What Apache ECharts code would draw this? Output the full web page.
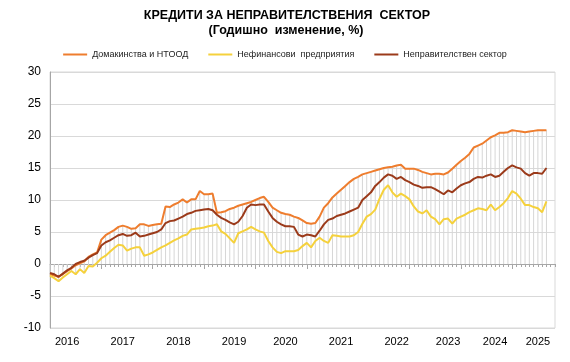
<!DOCTYPE html>
<html><head><meta charset="utf-8">
<script src="https://cdn.jsdelivr.net/npm/echarts/dist/echarts.min.js"></script>
<style>html,body{margin:0;padding:0;background:#fff}#c{width:570px;height:362px}</style>
</head><body><div id="c"></div>
<script>
const titleLine1 = 'КРЕДИТИ ЗА НЕПРАВИТЕЛСТВЕНИЯ  СЕКТОР';
const titleLine2 = '(Годишно  изменение, %)';
const seriesNames = ['Домакинства и НТООД', 'Нефинансови  предприятия', 'Неправителствен сектор'];

// monthly categories Jan 2016 .. Nov 2025
const months = [];
for (let y = 2016; y <= 2025; y++) {
  for (let m = 1; m <= 12; m++) {
    if (y === 2025 && m > 11) break;
    months.push(y + '-' + String(m).padStart(2, '0'));
  }
}

const households = [
 -1.6,-1.8,-2.0,-1.6,-1.1,-0.7,-0.2,0.1,0.4,1.1,1.5,1.8,
 3.8,4.5,4.9,5.3,5.8,6.0,5.8,5.5,5.6,6.2,6.2,5.95,
 6.1,6.2,6.3,9.0,8.9,9.3,9.6,10.1,9.6,10.1,10.1,11.4,
 10.9,10.9,11.0,8.0,8.1,8.25,8.6,8.8,9.1,9.3,9.5,9.7,
 10.0,10.3,10.5,9.7,8.8,8.4,8.0,7.8,7.7,7.4,7.2,6.8,
 6.4,6.3,6.4,7.4,8.8,9.5,10.4,11.0,11.6,12.2,12.8,13.3,
 13.6,14.0,14.2,14.4,14.6,14.8,15.0,15.1,15.2,15.4,15.5,14.9,
 14.9,14.9,14.7,14.4,14.2,14.0,14.1,14.1,14.0,14.3,14.9,15.5,
 16.1,16.6,17.2,18.2,18.5,18.8,19.3,19.8,20.1,20.5,20.5,20.6,
 20.9,20.8,20.7,20.6,20.7,20.8,20.9,20.9,20.9
];
const nonFinancial = [
 -1.8,-2.2,-2.7,-2.1,-1.6,-1.1,-1.6,-0.8,-1.4,-0.3,-0.4,0.2,
 0.9,1.3,1.9,2.5,3.0,2.9,2.1,2.4,2.6,2.6,1.3,1.5,
 1.8,2.2,2.6,2.9,3.3,3.7,4.0,4.4,4.6,5.4,5.5,5.6,
 5.7,5.9,6.0,6.2,5.1,4.7,4.0,3.3,4.8,5.1,5.4,5.8,
 5.4,5.1,4.9,3.6,2.6,1.9,1.7,2.0,2.0,2.0,2.2,2.8,
 3.3,2.6,3.6,4.1,3.6,3.3,4.5,4.4,4.3,4.3,4.3,4.5,
 5.0,6.3,7.4,7.8,8.5,10.2,11.6,12.3,11.2,10.5,11.0,10.6,
 10.1,9.0,8.2,7.9,8.4,7.4,7.0,6.2,7.0,7.1,6.3,7.1,
 7.4,7.7,8.1,8.4,8.7,8.6,8.4,9.3,8.4,8.9,9.5,10.3,
 11.4,11.0,10.2,9.2,9.2,8.9,8.7,8.1,9.8
];
const nonGovernment = [
 -1.4,-1.6,-2.0,-1.5,-1.0,-0.6,0.0,0.3,0.5,1.0,1.4,1.7,
 2.9,3.4,3.7,4.1,4.5,4.7,4.4,4.5,4.9,4.3,4.4,4.6,
 4.8,5.0,5.4,6.4,6.7,6.8,7.1,7.4,7.8,8.0,8.3,8.4,
 8.5,8.6,8.4,7.7,7.2,6.9,6.5,6.2,6.6,7.5,8.8,9.3,
 9.2,9.3,9.3,8.2,7.2,6.6,6.2,5.9,5.9,5.8,4.6,4.3,
 4.6,4.5,4.3,5.2,6.2,6.9,7.1,7.5,7.7,7.9,8.2,8.5,
 8.8,10.0,10.6,11.2,12.2,12.8,13.5,14.0,13.8,13.3,13.6,13.1,
 12.8,12.4,12.2,11.9,12.0,12.0,11.7,11.3,10.9,11.5,11.2,11.8,
 12.3,12.6,12.8,13.3,13.6,13.5,13.8,14.0,13.6,13.8,14.4,15.0,
 15.4,15.1,14.9,14.2,13.8,14.2,14.2,14.1,15.0
];

const yearLabels = ['2016','2017','2018','2019','2020','2021','2022','2023','2024','2025'];
const yearLabelMonths = ['2016-05','2017-06','2018-07','2019-08','2020-08','2021-09','2022-10','2023-10','2024-09','2025-07'];
const yMin = -10, yMax = 30, yStep = 5;

const colors = ['#EE7D2E', '#F5D13C', '#9B3A1A'];
const FONT = 'Liberation Sans, Arial, sans-serif';

// drop lines (Excel-style): from zero to the extreme of the series in each month
const dropUp = households.map((v, i) => Math.max(0, v, nonFinancial[i], nonGovernment[i]));
const dropDown = households.map((v, i) => Math.min(0, v, nonFinancial[i], nonGovernment[i]));

const gridTop = 72, gridHeight = 256;
const chart = echarts.init(document.getElementById('c'), null, {renderer: 'canvas'});
chart.setOption({
  animation: false,
  backgroundColor: '#fff',
  textStyle: {fontFamily: FONT},
  title: [
    {text: titleLine1, left: 282, textAlign: 'center', top: 4, textStyle: {fontSize: 12.5, fontWeight: 'bold', color: '#000', fontFamily: FONT}},
    {text: titleLine2, left: 281, textAlign: 'center', top: 19, textStyle: {fontSize: 12.5, fontWeight: 'bold', color: '#000', fontFamily: FONT}}
  ],
  legend: {
    top: 45, left: 'center', itemWidth: 24, itemHeight: 2, itemGap: 20, icon: 'rect',
    textStyle: {fontSize: 9, color: '#222', fontFamily: FONT},
    data: seriesNames
  },
  grid: {left: 50, right: 15, top: gridTop, height: gridHeight, show: true, borderColor: '#d9d9d9', borderWidth: 1},
  xAxis: [
    {type: 'category', data: months, boundaryGap: false,
     axisLine: {onZero: true, lineStyle: {color: '#a6a6a6', width: 1}},
     axisTick: {show: true, interval: 0, length: 3, lineStyle: {color: '#a6a6a6'}},
     axisLabel: {show: false}, splitLine: {show: false}},
    {type: 'category', data: months, boundaryGap: false, position: 'bottom',
     axisLine: {show: false, onZero: false}, axisTick: {show: false},
     axisLabel: {show: true, interval: (i, v) => yearLabelMonths.indexOf(v) >= 0,
       formatter: (v) => yearLabels[yearLabelMonths.indexOf(v)],
       fontSize: 11, color: '#000', margin: 8, fontFamily: FONT},
     splitLine: {show: false}},
    {type: 'category', data: months, boundaryGap: false, position: 'top',
     offset: -gridHeight * yMax / (yMax - yMin),
     axisLine: {show: false, onZero: false},
     axisTick: {show: true, inside: true, length: 5, interval: (i) => i % 12 === 0, lineStyle: {color: '#a6a6a6'}},
     axisLabel: {show: false}, splitLine: {show: false}}
  ],
  yAxis: {
    type: 'value', min: yMin, max: yMax, interval: yStep,
    axisLine: {show: true, lineStyle: {color: '#a6a6a6'}},
    axisTick: {show: false},
    axisLabel: {fontSize: 12, color: '#000', margin: 9, fontFamily: FONT},
    splitLine: {lineStyle: {color: '#d9d9d9', width: 1}}
  },
  series: [
    {type: 'bar', data: dropUp, barWidth: 1, barGap: '-100%', itemStyle: {color: '#d6d6d6'}, silent: true, z: 1, legendHoverLink: false},
    {type: 'bar', data: dropDown, barWidth: 1, barGap: '-100%', itemStyle: {color: '#d6d6d6'}, silent: true, z: 1, legendHoverLink: false},
    {name: seriesNames[0], type: 'line', data: households, showSymbol: false, lineStyle: {width: 2, color: colors[0]}, itemStyle: {color: colors[0]}, z: 3},
    {name: seriesNames[1], type: 'line', data: nonFinancial, showSymbol: false, lineStyle: {width: 2, color: colors[1]}, itemStyle: {color: colors[1]}, z: 3},
    {name: seriesNames[2], type: 'line', data: nonGovernment, showSymbol: false, lineStyle: {width: 2, color: colors[2]}, itemStyle: {color: colors[2]}, z: 3}
  ]
});
</script>
</body></html>
